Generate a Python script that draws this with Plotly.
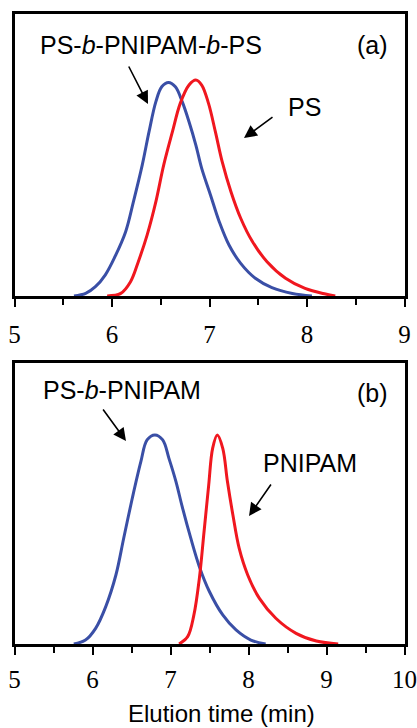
import plotly.graph_objects as go

# Panel (a): GPC traces (normalized RI intensity)
a_blk_x = [5.61, 5.73, 5.83, 5.93, 6.03, 6.14, 6.22, 6.31, 6.38, 6.45, 6.51, 6.58, 6.65, 6.72, 6.79, 6.86, 6.92, 7.01, 7.10, 7.20, 7.32, 7.47, 7.64, 7.85, 8.05]
a_blk_y = [0.0, 0.012, 0.043, 0.097, 0.182, 0.298, 0.437, 0.606, 0.761, 0.900, 0.969, 0.989, 0.969, 0.900, 0.807, 0.699, 0.591, 0.468, 0.344, 0.236, 0.151, 0.082, 0.039, 0.012, 0.0]
a_ps_x = [5.95, 6.09, 6.19, 6.27, 6.36, 6.45, 6.53, 6.62, 6.70, 6.79, 6.86, 6.92, 6.99, 7.06, 7.13, 7.22, 7.32, 7.44, 7.59, 7.78, 7.98, 8.19, 8.29]
a_ps_y = [0.0, 0.012, 0.066, 0.159, 0.282, 0.437, 0.606, 0.761, 0.892, 0.977, 1.000, 0.977, 0.892, 0.761, 0.622, 0.483, 0.360, 0.252, 0.159, 0.082, 0.035, 0.009, 0.0]

# Panel (b)
b_blk_x = [5.76, 5.91, 6.04, 6.17, 6.30, 6.40, 6.51, 6.62, 6.70, 6.80, 6.90, 6.98, 7.07, 7.15, 7.26, 7.37, 7.50, 7.67, 7.84, 8.03, 8.22]
b_blk_y = [0.0, 0.019, 0.075, 0.179, 0.330, 0.506, 0.697, 0.872, 0.976, 1.000, 0.976, 0.888, 0.777, 0.657, 0.506, 0.370, 0.250, 0.139, 0.067, 0.019, 0.0]
b_pn_x = [7.11, 7.22, 7.30, 7.37, 7.43, 7.49, 7.54, 7.60, 7.67, 7.73, 7.80, 7.88, 7.99, 8.14, 8.35, 8.61, 8.87, 9.15]
b_pn_y = [0.0, 0.035, 0.139, 0.314, 0.537, 0.761, 0.936, 1.000, 0.936, 0.777, 0.617, 0.458, 0.330, 0.218, 0.123, 0.051, 0.014, 0.0]

BLUE = "#3a4fa6"
RED = "#f0171f"

fig = go.Figure()
line_kw = dict(shape="spline", smoothing=1.0, width=3)
fig.add_trace(go.Scatter(x=a_blk_x, y=a_blk_y, mode="lines", line=dict(color=BLUE, **line_kw), xaxis="x", yaxis="y"))
fig.add_trace(go.Scatter(x=a_ps_x, y=a_ps_y, mode="lines", line=dict(color=RED, **line_kw), xaxis="x", yaxis="y"))
fig.add_trace(go.Scatter(x=b_blk_x, y=b_blk_y, mode="lines", line=dict(color=BLUE, **line_kw), xaxis="x2", yaxis="y2"))
fig.add_trace(go.Scatter(x=b_pn_x, y=b_pn_y, mode="lines", line=dict(color=RED, **line_kw), xaxis="x2", yaxis="y2"))

W, H = 417, 728
def px(x):
    return x / W
def py(y):
    return 1 - y / H

xdom = [px(14.5), px(404.5)]
tickfont = dict(family="Liberation Serif, Times New Roman, serif", size=25, color="black")
xax_common = dict(showline=True, linecolor="black", linewidth=2.5, mirror=True,
                  ticks="outside", ticklen=8, tickwidth=2, tickcolor="black",
                  showgrid=False, zeroline=False, tickfont=tickfont, dtick=1,
                  minor=dict(ticks="outside", ticklen=6, tickwidth=2, tickcolor="black", dtick=0.5, showgrid=False),
                  layer="below traces", automargin=False)
yax_common = dict(showline=True, linecolor="black", linewidth=2.5, mirror=True, automargin=False,
                  showticklabels=False, ticks="", showgrid=False, zeroline=False, layer="below traces")

fig.update_layout(
    width=W, height=H,
    margin=dict(l=0, r=0, t=0, b=0),
    paper_bgcolor="white", plot_bgcolor="white",
    showlegend=False,
    xaxis=dict(domain=xdom, range=[5, 9], anchor="y", tick0=5, ticklabelstandoff=6, **xax_common),
    yaxis=dict(domain=[py(296), py(14)], range=[0, 1.306], anchor="x", **yax_common),
    xaxis2=dict(domain=xdom, range=[5, 10], anchor="y2", tick0=5, ticklabelstandoff=3, **xax_common),
    yaxis2=dict(domain=[py(644), py(363)], range=[0, 1.344], anchor="x2", **yax_common),
)

sans = "Liberation Sans, Arial, sans-serif"
def label(text, x, y, size=25):
    fig.add_annotation(text=text, x=px(x), y=py(y), xref="paper", yref="paper",
                       showarrow=False, xanchor="center", yanchor="middle",
                       font=dict(family=sans, size=size, color="black"))

def arrow(tail, head):
    fig.add_annotation(text="", x=px(head[0]), y=py(head[1]), xref="paper", yref="paper",
                       ax=tail[0] - head[0], ay=tail[1] - head[1],
                       showarrow=True, arrowhead=2, arrowsize=1.6, arrowwidth=1.6, arrowcolor="black")

label("PS-<i>b</i>-PNIPAM-<i>b</i>-PS", 150.5, 45)
label("(a)", 372.5, 45)
label("PS", 304, 107)
arrow((128, 65), (148, 104))
arrow((274, 116), (244, 138))

label("PS-<i>b</i>-PNIPAM", 121.5, 390)
label("(b)", 372.5, 393)
label("PNIPAM", 309.5, 463)
arrow((102, 408), (126, 441))
arrow((272, 483), (249, 516))

label("Elution time (min)", 221.7, 713, size=24)

fig.write_html("out.html", config={"displayModeBar": False},
               post_script="document.body.style.margin='0';document.body.style.padding='0';document.body.style.overflow='hidden';")
